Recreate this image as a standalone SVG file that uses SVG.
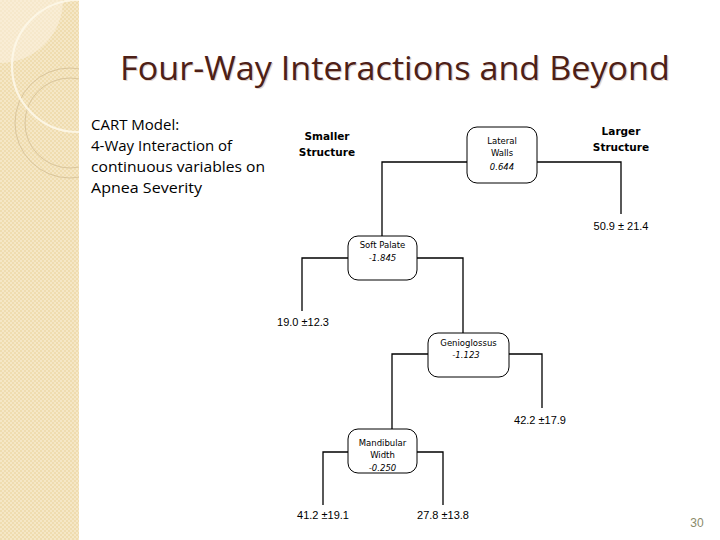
<svg xmlns="http://www.w3.org/2000/svg" width="720" height="540" viewBox="0 0 720 540">
<defs>
<pattern id="chk" width="4" height="4" patternUnits="userSpaceOnUse">
<rect width="4" height="4" fill="#efdcaf"/>
<rect width="2" height="2" fill="#f5e7c6"/>
<rect x="2" y="2" width="2" height="2" fill="#f5e7c6"/>
</pattern>
<clipPath id="side"><rect x="0" y="0" width="79" height="540"/></clipPath>
</defs>
<style>
.box{fill:#fff;stroke:#000;stroke-width:1}
.ln{fill:none;stroke:#000;stroke-width:1.3}
.bt{font-family:"DejaVu Sans",sans-serif;font-size:8.5px;fill:#000;text-anchor:middle}
.it{font-style:italic}
.lab{font-family:"DejaVu Sans",sans-serif;font-size:10.5px;font-weight:bold;fill:#000;text-anchor:middle}
.leaf{font-family:"Liberation Sans",sans-serif;font-size:11px;fill:#000;text-anchor:middle}
.body{font-family:"Open Sans","Liberation Sans",sans-serif;font-size:15px;fill:#000}
</style>
<rect width="720" height="540" fill="#fff"/>
<g id="sidebar" clip-path="url(#side)">
<rect x="0" y="0" width="79" height="540" fill="url(#chk)"/>
<circle cx="0" cy="0" r="63" fill="#fbf3e2" opacity="0.55"/>
<circle cx="70" cy="123" r="55" fill="none" stroke="#d9c59c" stroke-width="1"/>
<circle cx="70" cy="123" r="45" fill="none" stroke="#d9c59c" stroke-width="1"/>
<circle cx="78" cy="66" r="66" fill="none" stroke="#fdf7e8" stroke-width="2.2" opacity="0.9"/>
</g>
<text x="395" y="80" font-family="Open Sans, Liberation Sans, sans-serif" font-size="32" fill="#e3d5cd" text-anchor="middle" textLength="550" lengthAdjust="spacingAndGlyphs" transform="translate(1.2,1.2)">Four-Way Interactions and Beyond</text>
<text id="title" x="395" y="80" font-family="Open Sans, Liberation Sans, sans-serif" font-size="32" fill="#4d2017" text-anchor="middle" textLength="550" lengthAdjust="spacingAndGlyphs">Four-Way Interactions and Beyond</text>
<g id="desc" class="body">
<text x="91" y="130">CART Model:</text>
<text x="91" y="151">4-Way Interaction of</text>
<text x="91" y="172" textLength="174" lengthAdjust="spacingAndGlyphs">continuous variables on</text>
<text x="91" y="193" textLength="111" lengthAdjust="spacingAndGlyphs">Apnea Severity</text>
</g>
<g id="connectors">
<path class="ln" d="M467,162 H382 V236"/>
<path class="ln" d="M537,162 H621 V214"/>
<path class="ln" d="M348,258 H302 V311"/>
<path class="ln" d="M417,258 H463 V333"/>
<path class="ln" d="M428,354 H392 V429"/>
<path class="ln" d="M509,354 H542 V408"/>
<path class="ln" d="M348,452 H323 V505"/>
<path class="ln" d="M417,452 H443 V505"/>
</g>
<g id="lbl-smaller"><text class="lab" x="327" y="140">Smaller</text><text class="lab" x="327" y="156">Structure</text></g>
<g id="lbl-larger"><text class="lab" x="621" y="135">Larger</text><text class="lab" x="621" y="151">Structure</text></g>
<g id="n-lateral">
<rect class="box" x="467" y="127" width="70" height="56" rx="10"/>
<text class="bt" x="502" y="144">Lateral</text>
<text class="bt" x="502" y="156">Walls</text>
<text class="bt it" x="502" y="170">0.644</text>
</g>
<g id="n-soft">
<rect class="box" x="348" y="236" width="69" height="44" rx="10"/>
<text class="bt" x="382.5" y="248">Soft Palate</text>
<text class="bt it" x="382.5" y="261">-1.845</text>
</g>
<g id="n-genio">
<rect class="box" x="428" y="333" width="81" height="44" rx="10"/>
<text class="bt" x="468.5" y="346">Genioglossus</text>
<text class="bt it" x="466" y="358">-1.123</text>
</g>
<g id="n-mand">
<rect class="box" x="348" y="429" width="69" height="44" rx="10"/>
<text class="bt" x="382.5" y="446">Mandibular</text>
<text class="bt" x="382.5" y="458">Width</text>
<text class="bt it" x="382.5" y="471">-0.250</text>
</g>
<g id="leaf1"><text class="leaf" x="621" y="230">50.9 ± 21.4</text></g>
<g id="leaf2"><text class="leaf" x="303" y="326">19.0 ±12.3</text></g>
<g id="leaf3"><text class="leaf" x="540" y="424">42.2 ±17.9</text></g>
<g id="leaf4"><text class="leaf" x="323" y="519">41.2 ±19.1</text></g>
<g id="leaf5"><text class="leaf" x="443" y="519">27.8 ±13.8</text></g>
<text x="697" y="527" font-family="Liberation Sans, sans-serif" font-size="12" fill="#8a8a6a" text-anchor="middle">30</text>
</svg>
